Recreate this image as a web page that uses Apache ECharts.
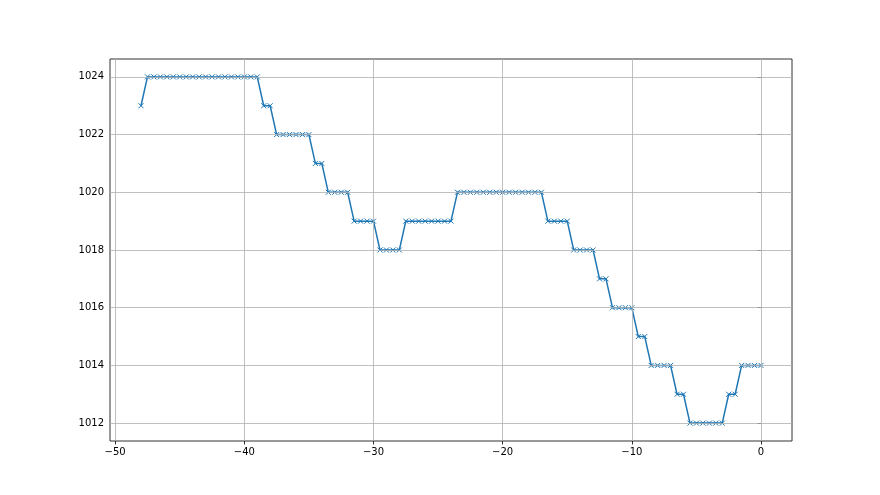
<!DOCTYPE html>
<html>
<head>
<meta charset="utf-8">
<script src="https://cdn.jsdelivr.net/npm/echarts@6/dist/echarts.min.js"></script>
<style>html,body{margin:0;padding:0;background:#fff;}#c{width:880px;height:495px;}</style>
</head>
<body>
<div id="c"></div>
<script>
// x values: hours, -48 to 0 in 0.5 steps
const xStart = -48;
const xStep = 0.5;
// pressure values
const pressure = [
  1023,
  1024,1024,1024,1024,1024,1024,1024,1024,1024,1024,1024,1024,1024,1024,1024,1024,1024,1024,
  1023,1023,
  1022,1022,1022,1022,1022,1022,
  1021,1021,
  1020,1020,1020,1020,
  1019,1019,1019,1019,
  1018,1018,1018,1018,
  1019,1019,1019,1019,1019,1019,1019,1019,
  1020,1020,1020,1020,1020,1020,1020,1020,1020,1020,1020,1020,1020,1020,
  1019,1019,1019,1019,
  1018,1018,1018,1018,
  1017,1017,
  1016,1016,1016,1016,
  1015,1015,
  1014,1014,1014,1014,
  1013,1013,
  1012,1012,1012,1012,1012,1012,
  1013,1013,
  1014,1014,1014,1014
];
const xTickLabels = [-50,-40,-30,-20,-10,0];
const yTickLabels = [1012,1014,1016,1018,1020,1022,1024];

const points = pressure.map((v,i)=>[xStart + i*xStep, v]);

const chart = echarts.init(document.getElementById('c'), null, {renderer:'canvas'});
const labelStyle = {color:'#000', fontFamily:'DejaVu Sans', fontSize:10};
const gridColor = '#b0b0b0';
chart.setOption({
  animation:false,
  backgroundColor:'#fff',
  grid:{left:110, top:59, right:88, bottom:54, show:true, borderColor:'#333', borderWidth:1, backgroundColor:'transparent'},
  xAxis:{
    type:'value', min:-50.4, max:2.4, minInterval:10, maxInterval:10,
    axisLine:{show:false},
    axisTick:{show:true, length:3.5, lineStyle:{color:'#000', width:0.8}},
    axisLabel:Object.assign({margin:6, showMinLabel:false, showMaxLabel:false,
      formatter:v=> xTickLabels.includes(v) ? (v<0 ? '\u2212'+Math.abs(v) : String(v)) : ''}, labelStyle),
    splitLine:{show:false}
  },
  yAxis:{
    type:'value', min:1011.38, max:1024.62, minInterval:2, maxInterval:2,
    axisLine:{show:false},
    axisTick:{show:true, length:3.5, lineStyle:{color:'#000', width:0.8}},
    axisLabel:Object.assign({margin:6, showMinLabel:false, showMaxLabel:false,
      formatter:v=> yTickLabels.includes(v) ? String(v) : ''}, labelStyle),
    splitLine:{show:false}
  },
  series:[{
    type:'line',
    data:[],
    z:0,
    silent:true,
    markLine:{
      silent:true,
      symbol:['none','none'],
      label:{show:false},
      lineStyle:{color:gridColor, width:0.8, type:'solid'},
      emphasis:{disabled:true},
      animation:false,
      data: xTickLabels.map(v=>({xAxis:v})).concat(yTickLabels.map(v=>({yAxis:v})))
    }
  },{
    type:'line',
    data:points,
    z:2,
    lineStyle:{color:'#1f77b4', width:1.5},
    symbol:'path://M0,0L10,10M10,0L0,10',
    symbolSize:5,
    showAllSymbol:true,
    itemStyle:{color:'#1f77b4', borderColor:'#1f77b4', borderWidth:1},
    emphasis:{disabled:true}
  }]
});
</script>
</body>
</html>
